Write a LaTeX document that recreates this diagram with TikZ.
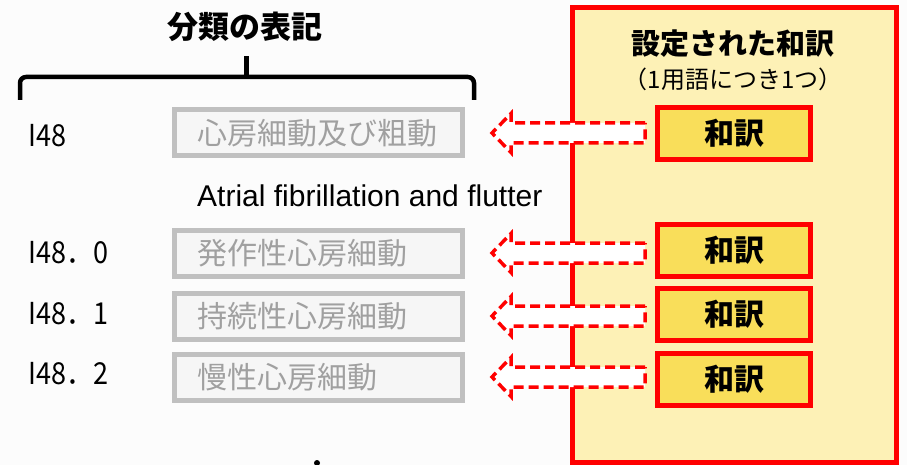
\documentclass[tikz,border=0pt]{standalone}
\usepackage{fontspec}
\usepackage{graphicx}
\setmainfont{Noto Sans CJK JP}
\newfontfamily\latfont{Liberation Sans}
\usetikzlibrary{calc}
\definecolor{bgc}{RGB}{252,252,252}
\definecolor{panelfill}{RGB}{253,241,182}
\definecolor{wafill}{RGB}{249,222,90}
\definecolor{redc}{RGB}{255,0,0}
\definecolor{graybd}{RGB}{192,192,192}
\definecolor{grayfill}{RGB}{246,246,246}
\definecolor{graytext}{RGB}{160,160,160}
\tikzset{
  graybox/.style={draw=graybd, line width=5pt, fill=grayfill, rectangle,
    minimum width=288pt, minimum height=46pt, inner xsep=0pt, inner ysep=0pt,
    text width=242pt, align=left, text=graytext,
    font=\fontsize{30}{32}\selectfont},
  wabox/.style={draw=redc, line width=5pt, fill=wafill, rectangle,
    minimum width=153pt, minimum height=52pt, inner sep=0pt,
    font=\fontsize{30}{34}\selectfont\bfseries},
  codelabel/.style={anchor=west, inner sep=0pt, font=\fontsize{27}{30}\selectfont},
  blockarr/.style={draw=redc, fill=white, line width=3.5pt, dash pattern=on 10pt off 5pt, line join=miter},
}
\newcommand{\tallcode}[1]{\scalebox{1}[1.12]{#1}}
\begin{document}
\begin{tikzpicture}[x=1pt,y=-1pt]
\useasboundingbox (0,0) rectangle (907,465);
\fill[bgc] (0,0) rectangle (907,465);

% panel
\node[draw=redc, line width=5pt, fill=panelfill, rectangle, minimum width=324pt, minimum height=455pt, inner sep=0pt] (panel) at (734.5,235) {};
\node[font=\fontsize{29}{32}\selectfont\bfseries, inner sep=0pt] (ptitle) at (733,44) {設定された和訳};
\node[font=\fontsize{24}{27}\selectfont, inner sep=0pt] (psub) at (733,79) {（1用語につき1つ）};

% title and brace
\node[font=\fontsize{31}{34}\selectfont\bfseries, inner sep=0pt] (title) at (245,27) {分類の表記};
\coordinate (bl) at (20,100);
\coordinate (br) at (474,100);
\coordinate (bt) at (246,56);
\draw[line width=4.5pt, rounded corners=6pt] (bl) -- (20,77) -- (474,77) -- (br);
\draw[line width=5pt] (246,78) -- (bt);

% gray boxes
\node[graybox] (g1) at (318.5,133) {心房細動及び粗動};
\node[graybox] (g2) at (318.5,253) {発作性心房細動};
\node[graybox] (g3) at (318.5,316) {持続性心房細動};
\node[graybox] (g4) at (318.5,377) {慢性心房細動};

% codes
\node[codelabel] (c1) at (28,136) {\tallcode{I48}};
\node[codelabel] (c2) at (28,253) {\tallcode{I48．0}};
\node[codelabel] (c3) at (28,314) {\tallcode{I48．1}};
\node[codelabel] (c4) at (28,374) {\tallcode{I48．2}};

\node[anchor=base west, inner sep=0pt, font=\latfont\fontsize{30}{34}\selectfont] (atrial) at (197,207) {Atrial fibrillation and flutter};

% wayaku boxes
\node[wabox] (w1) at (734,133.5) {和訳};
\node[wabox] (w2) at (734,250.5) {和訳};
\node[wabox] (w3) at (734,314.5) {和訳};
\node[wabox] (w4) at (734,379.5) {和訳};

% block arrows
\foreach \g/\w in {g1/w1,g2/w2,g3/w3,g4/w4}{
  \draw[blockarr] let \p1=($(\g.east)+(27pt,0pt)$), \p2=($(\w.west)+(-10pt,0pt)$) in
    (\x2,\y1+10pt) -- (\x1+19pt,\y1+10pt) -- (\x1+19pt,\y1+19.5pt) -- (\x1,\y1)
    -- (\x1+19pt,\y1-19.5pt) -- (\x1+19pt,\y1-10pt) -- (\x2,\y1-10pt) -- cycle;
}

% stray dot
\fill (317,463) circle (3pt);
\end{tikzpicture}
\end{document}
